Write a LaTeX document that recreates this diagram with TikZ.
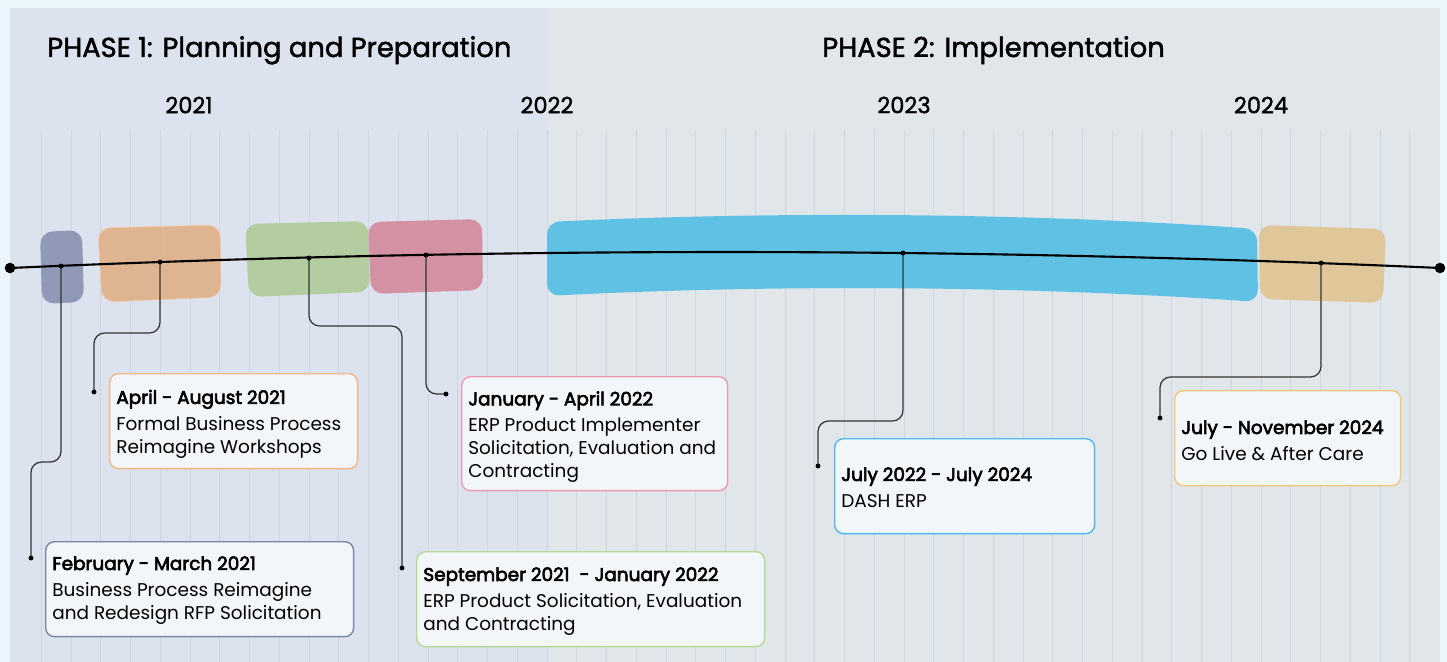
\documentclass[tikz,border=0pt]{standalone}
\usepackage{fontspec}
\setmainfont{Poppins}
\newfontfamily\medfont{Poppins}[FakeBold=1.6]
\newfontfamily\semifont{Poppins}[FakeBold=3.2]
\usetikzlibrary{positioning}

\definecolor{outerbg}{HTML}{EAF5FC}
\definecolor{phaseone}{HTML}{DCE3EF}
\definecolor{phasetwo}{HTML}{E1E6EA}
\definecolor{gridc}{HTML}{CFD5DE}
\definecolor{boxfill}{HTML}{F3F6F9}
\definecolor{slatebar}{HTML}{8A94B2}
\definecolor{orangebar}{HTML}{E0B08A}
\definecolor{greenbar}{HTML}{B0CC9A}
\definecolor{pinkbar}{HTML}{D58B9E}
\definecolor{bluebar}{HTML}{55C0E4}
\definecolor{tanbar}{HTML}{DFC594}
\definecolor{slateline}{HTML}{7C87A8}
\definecolor{orangeline}{HTML}{F2B584}
\definecolor{greenline}{HTML}{B5DA95}
\definecolor{pinkline}{HTML}{EE9AB5}
\definecolor{blueline}{HTML}{4FB8EA}
\definecolor{tanline}{HTML}{F2C777}

\begin{document}
\begin{tikzpicture}[x=0.02cm, y=-0.02cm,
  tline/.style={line width=1.2pt, black},
  callout/.style={draw=black!80, line width=0.7pt, rounded corners=6pt},
  bar/.style={fill=#1, fill opacity=0.92, rounded corners=7pt},
  box/.style={draw=#1, fill=boxfill, line width=0.8pt, rounded corners=5pt, anchor=north west, inner sep=0pt},
  lbl/.style={anchor=north west, align=left, inner sep=0pt, font=\fontsize{10.5}{13}\selectfont, xshift=0.14cm},
  year/.style={font=\medfont\fontsize{12.8}{14}\selectfont},
  phase/.style={font=\medfont\fontsize{15.6}{17}\selectfont, anchor=base west, inner sep=0pt}]
\useasboundingbox (0,0) rectangle (1447,662);

% background panels
\fill[outerbg] (0,0) rectangle (1447,662);
\fill[phaseone] (10,8) rectangle (547,662);
\fill[phasetwo] (547,8) rectangle (1440,662);
\foreach \k in {-17,...,29}
  \draw[gridc, line width=0.4pt] (547+29.75*\k,130) -- (547+29.75*\k,662);

\node[phase] (ph1) at (47,57) {PHASE 1: Planning and Preparation};
\node[phase] (ph2) at (822,57) {PHASE 2: Implementation};

\node[year] (y21) at (189,105) {2021};
\node[year] (y22) at (547,105) {2022};
\node[year] (y23) at (904,105) {2023};
\node[year] (y24) at (1261,105) {2024};

% bars
\path[bar=slatebar] (40,232) -- (82,230) -- (84,302) -- (42,304) -- cycle;
\path[bar=orangebar, draw=orangeline!80] (98,228) -- (220,225) -- (221,297) -- (102,302) -- cycle;
\path[bar=greenbar] (245,224) -- (368,221) -- (370,292) -- (249,297) -- cycle;
\path[bar=pinkbar] (368,222) -- (482,219) -- (483,290) -- (371,294) -- cycle;
\path[bar=bluebar] (547,222) .. controls (780,211) and (1030,213) .. (1257,229)
  -- (1258,302) .. controls (1030,286) and (780,284) .. (547,296) -- cycle;
\path[bar=tanbar] (1259,225) -- (1386,229) -- (1383,303) -- (1260,299) -- cycle;

% timeline
\coordinate (start) at (10,268);
\coordinate (stop) at (1440,268);
\draw[tline] (start) .. controls (490,246.7) and (960,246.7) .. (stop);
\fill (start) circle[radius=3pt];
\fill (stop) circle[radius=3pt];

\coordinate (d1) at (61,266);
\coordinate (d2) at (160,262);
\coordinate (d3) at (309,258);
\coordinate (d4) at (426,255);
\coordinate (d5) at (903,253);
\coordinate (d6) at (1321,263);

\coordinate (k1) at (31,462);
\coordinate (k2) at (94,333);
\coordinate (k3) at (402,326);
\coordinate (k5) at (818,421);
\coordinate (k6) at (1160,377);

\coordinate (e1) at (31,558);
\coordinate (e2) at (94,392);
\coordinate (e3) at (402,568);
\coordinate (e4) at (446,394);
\coordinate (e5) at (818,466);
\coordinate (e6) at (1160,418);

\draw[callout] (d1) |- (k1) -- (e1);
\draw[callout] (d2) |- (k2) -- (e2);
\draw[callout] (d3) |- (k3) -- (e3);
\draw[callout] (d4) |- (e4);
\draw[callout] (d5) |- (k5) -- (e5);
\draw[callout] (d6) |- (k6) -- (e6);

\foreach \p in {d1,d2,d3,d4,d5,d6,e1,e2,e3,e4,e5,e6}
  \fill (\p) circle[radius=1.4pt];

% boxes
\node[box=slateline, minimum width=6.16cm, minimum height=1.9cm] (b1) at (45,541) {};
\node[box=orangeline, minimum width=4.96cm, minimum height=1.9cm] (b2) at (109,373) {};
\node[box=greenline, minimum width=6.96cm, minimum height=1.9cm] (b3) at (416,551) {};
\node[box=pinkline, minimum width=5.32cm, minimum height=2.28cm] (b4) at (461,376) {};
\node[box=blueline, minimum width=5.2cm, minimum height=1.9cm] (b5) at (834,438) {};
\node[box=tanline, minimum width=4.52cm, minimum height=1.9cm] (b6) at (1174,390) {};

\node[lbl, yshift=-0.3cm] (t1) at (b1.north west) {{\semifont February - March 2021}\\[2pt]Business Process Reimagine\\and Redesign RFP Solicitation};
\node[lbl, yshift=-0.33cm] (t2) at (b2.north west) {{\semifont April - August 2021}\\[2pt]Formal Business Process\\Reimagine Workshops};
\node[lbl, yshift=-0.32cm] (t3) at (b3.north west) {{\semifont September 2021\ \ - January 2022}\\[2pt]ERP Product Solicitation, Evaluation\\and Contracting};
\node[lbl, yshift=-0.3cm] (t4) at (b4.north west) {{\semifont January - April 2022}\\[2pt]ERP Product Implementer\\Solicitation, Evaluation and\\Contracting};
\node[lbl, yshift=-0.58cm] (t5) at (b5.north west) {{\semifont July 2022 - July 2024}\\[2pt]DASH ERP};
\node[lbl, yshift=-0.6cm] (t6) at (b6.north west) {{\semifont July - November 2024}\\[2pt]Go Live \& After Care};
\end{tikzpicture}
\end{document}
